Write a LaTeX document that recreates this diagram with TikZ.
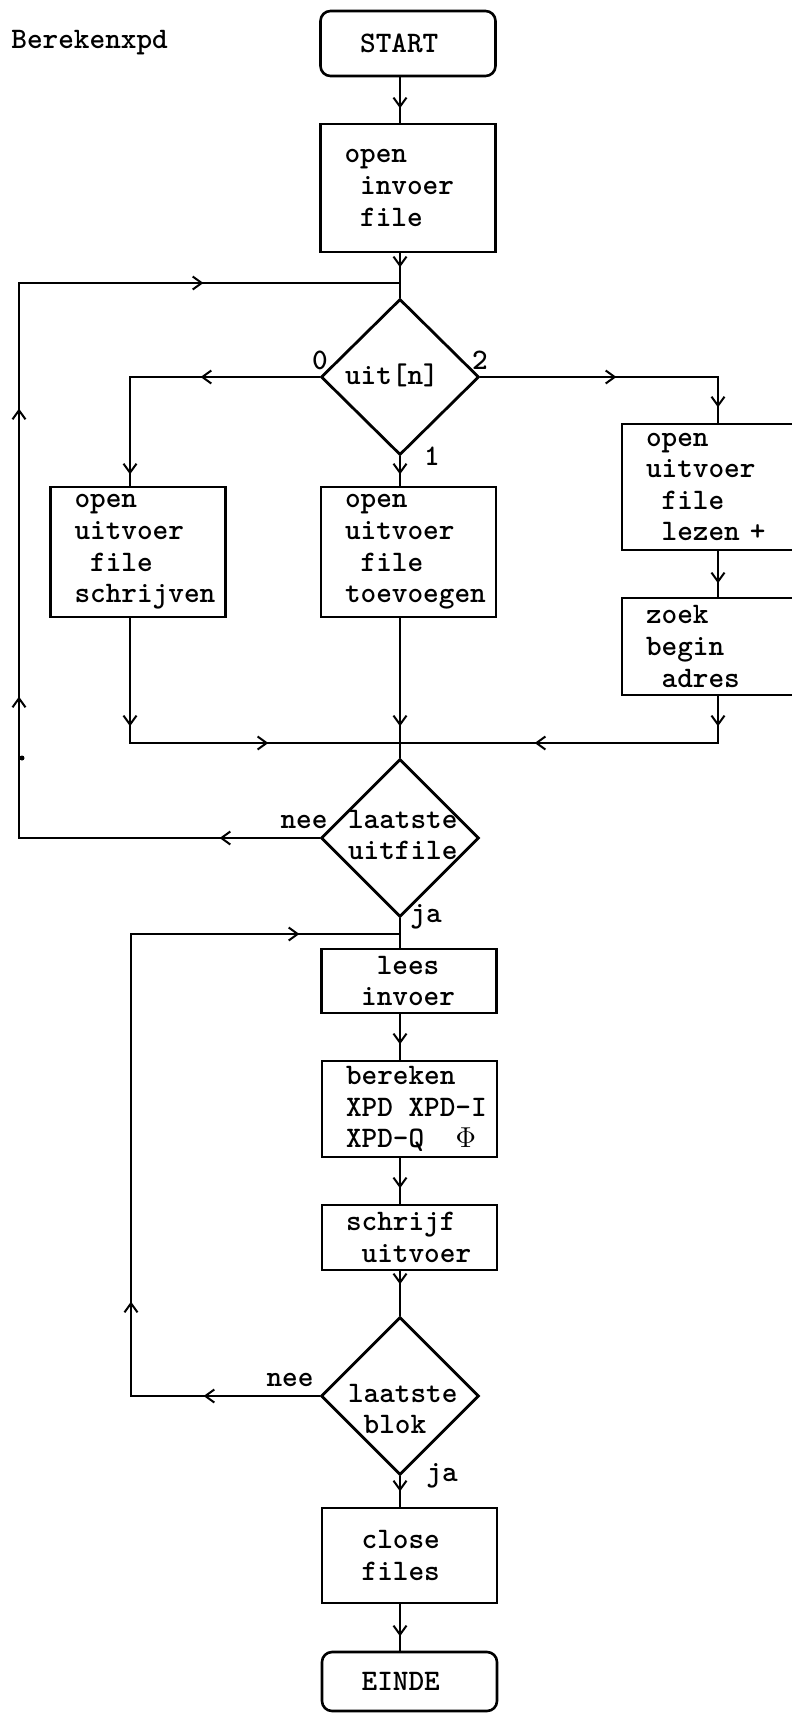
\documentclass[tikz,border=0pt]{standalone}
\usetikzlibrary{arrows.meta,shapes.geometric,decorations.markings}
\newcommand{\tsp}{\hspace*{0.525em}}
\newcommand{\dlines}[3]{\smash{\makebox[0pt][l]{\hspace*{#1}\raisebox{#2}{\begin{tabular}[t]{@{}l@{}}#3\end{tabular}}}}}

\begin{document}
\begin{tikzpicture}[
    x=0.5pt,y=-0.5pt,
    every node/.style={font=\fontsize{14.9pt}{15.8pt}\selectfont\ttfamily\bfseries},
    stepbox/.style={draw,line width=1.3pt,minimum width=87.5pt,text width=63.5pt,inner xsep=12pt,inner ysep=0pt,align=left},
    term/.style={stepbox,rounded corners=5pt},
    decision/.style={draw,diamond,line width=1.4pt,inner sep=0pt,minimum width=79pt,minimum height=79pt},
    lbl/.style={inner sep=0pt},
    flow/.style={draw,line width=1pt},
    midtip/.style={postaction={decorate,decoration={markings,mark=at position #1 with {\arrow{Straight Barb[length=4.5pt,width=6.5pt]}}}}}
  ]
    \useasboundingbox (0,0) rectangle (792,1713);
    \clip (0,0) rectangle (792,1713);

    \node[lbl,anchor=west] (title) at (11,43) {Berekenxpd};
    \node[term,minimum height=32.5pt] (start) at (408,43.5) {\tsp START};
    \node[stepbox,minimum height=64pt] (open) at (408,188) {open\\\tsp invoer\\\tsp file};
    \node[decision,minimum height=78pt] (uit) at (400,377) {\dlines{-27.5pt}{-3.5pt}{uit[n]}};
    \node[stepbox,minimum height=65pt] (openschr) at (138,552) {open\\uitvoer\\\tsp file\\schrijven};
    \node[stepbox,minimum height=65pt] (opentoev) at (408.5,552) {open\\uitvoer\\\tsp file\\toevoegen};
    \node[stepbox,minimum height=63pt] (openlees) at (709.5,487) {open\\uitvoer\\\tsp file\\\tsp lezen +};
    \node[stepbox,minimum height=48.5pt] (zoek) at (709.5,646.5) {zoek\\begin\\\tsp adres};
    \node[decision] (laatsteuit) at (400,838) {\dlines{-26pt}{5pt}{laatste\\uitfile}};
    \node[stepbox,minimum height=32pt] (lees) at (409,981) {\tsp\tsp lees\\\tsp invoer};
    \node[stepbox,minimum height=48pt] (bereken) at (409.5,1109) {bereken\\\mbox{XPD\tsp XPD-I}\\\mbox{XPD-Q\tsp\tsp$\Phi$}};
    \node[stepbox,minimum height=32.5pt] (schrijf) at (409.5,1237.5) {schrijf\\\tsp uitvoer};
    \node[decision] (laatsteblok) at (400,1396) {\dlines{-26pt}{-3pt}{laatste\\\tsp blok}};
    \node[stepbox,minimum height=47.5pt] (close) at (409.5,1555.5) {\tsp close\\\tsp files};
    \node[term,minimum height=29.5pt] (einde) at (409.5,1681.5) {\tsp EINDE};

    \node[lbl] (l0) at (320,360) {0};
    \node[lbl] (l2) at (480,360) {2};
    \node[lbl] (l1) at (432,456) {1};
    \node[lbl] (neeuit) at (304,822) {nee};
    \node[lbl] (jauit) at (426,917) {ja};
    \node[lbl] (neeblok) at (290,1380) {nee};
    \node[lbl] (jablok) at (442,1476) {ja};

    \coordinate (j1) at (400,283);
    \coordinate (j2) at (400,743);
    \coordinate (j3) at (400,934);
    \coordinate (lc) at (19,283);
    \coordinate (lc2) at (131,934);
    \coordinate (cl) at (130,377);
    \coordinate (cr) at (718,377);

    \draw[flow,midtip=15.5pt] (start.south -| uit) -- (open.north -| uit);
    \draw[flow,midtip=7pt] (open.south -| uit) -- (uit.north);
    \draw[flow,midtip=59.5pt,midtip=143.5pt] (uit.west) -- (cl) -- (cl |- openschr.north);
    \draw[flow,midtip=9pt] (uit.south) -- (opentoev.north -| uit);
    \draw[flow,midtip=68pt,midtip=134pt] (uit.east) -- (cr) -- (cr |- openlees.north);
    \draw[flow,midtip=16pt] (openlees.south -| cr) -- (zoek.north -| cr);
    \draw[flow,midtip=54pt,midtip=131.5pt] (openschr.south -| cl) |- (j2);
    \draw[flow,midtip=54pt] (opentoev.south -| uit) -- (laatsteuit.north);
    \draw[flow,midtip=15pt,midtip=115pt] (zoek.south -| cr) |- (j2);
    \draw[flow,midtip=50pt,midtip=221pt,midtip=365pt,midtip=520pt] (laatsteuit.west) -| (lc) -- (j1);
    \draw[flow] (laatsteuit.south) -- (lees.north -| uit);
    \draw[flow,midtip=58pt,midtip=141.5pt,midtip=409.5pt] (laatsteblok.west) -| (lc2) -- (j3);
    \draw[flow,midtip=15pt] (lees.south -| uit) -- (bereken.north -| uit);
    \draw[flow,midtip=15pt] (bereken.south -| uit) -- (schrijf.north -| uit);
    \draw[flow,midtip=6.5pt] (schrijf.south -| uit) -- (laatsteblok.north);
    \draw[flow,midtip=7.5pt] (laatsteblok.south) -- (close.north -| uit);
    \draw[flow,midtip=16pt] (close.south -| uit) -- (einde.north -| uit);
    \fill (22,758) circle (2.5);
\end{tikzpicture}
\end{document}
